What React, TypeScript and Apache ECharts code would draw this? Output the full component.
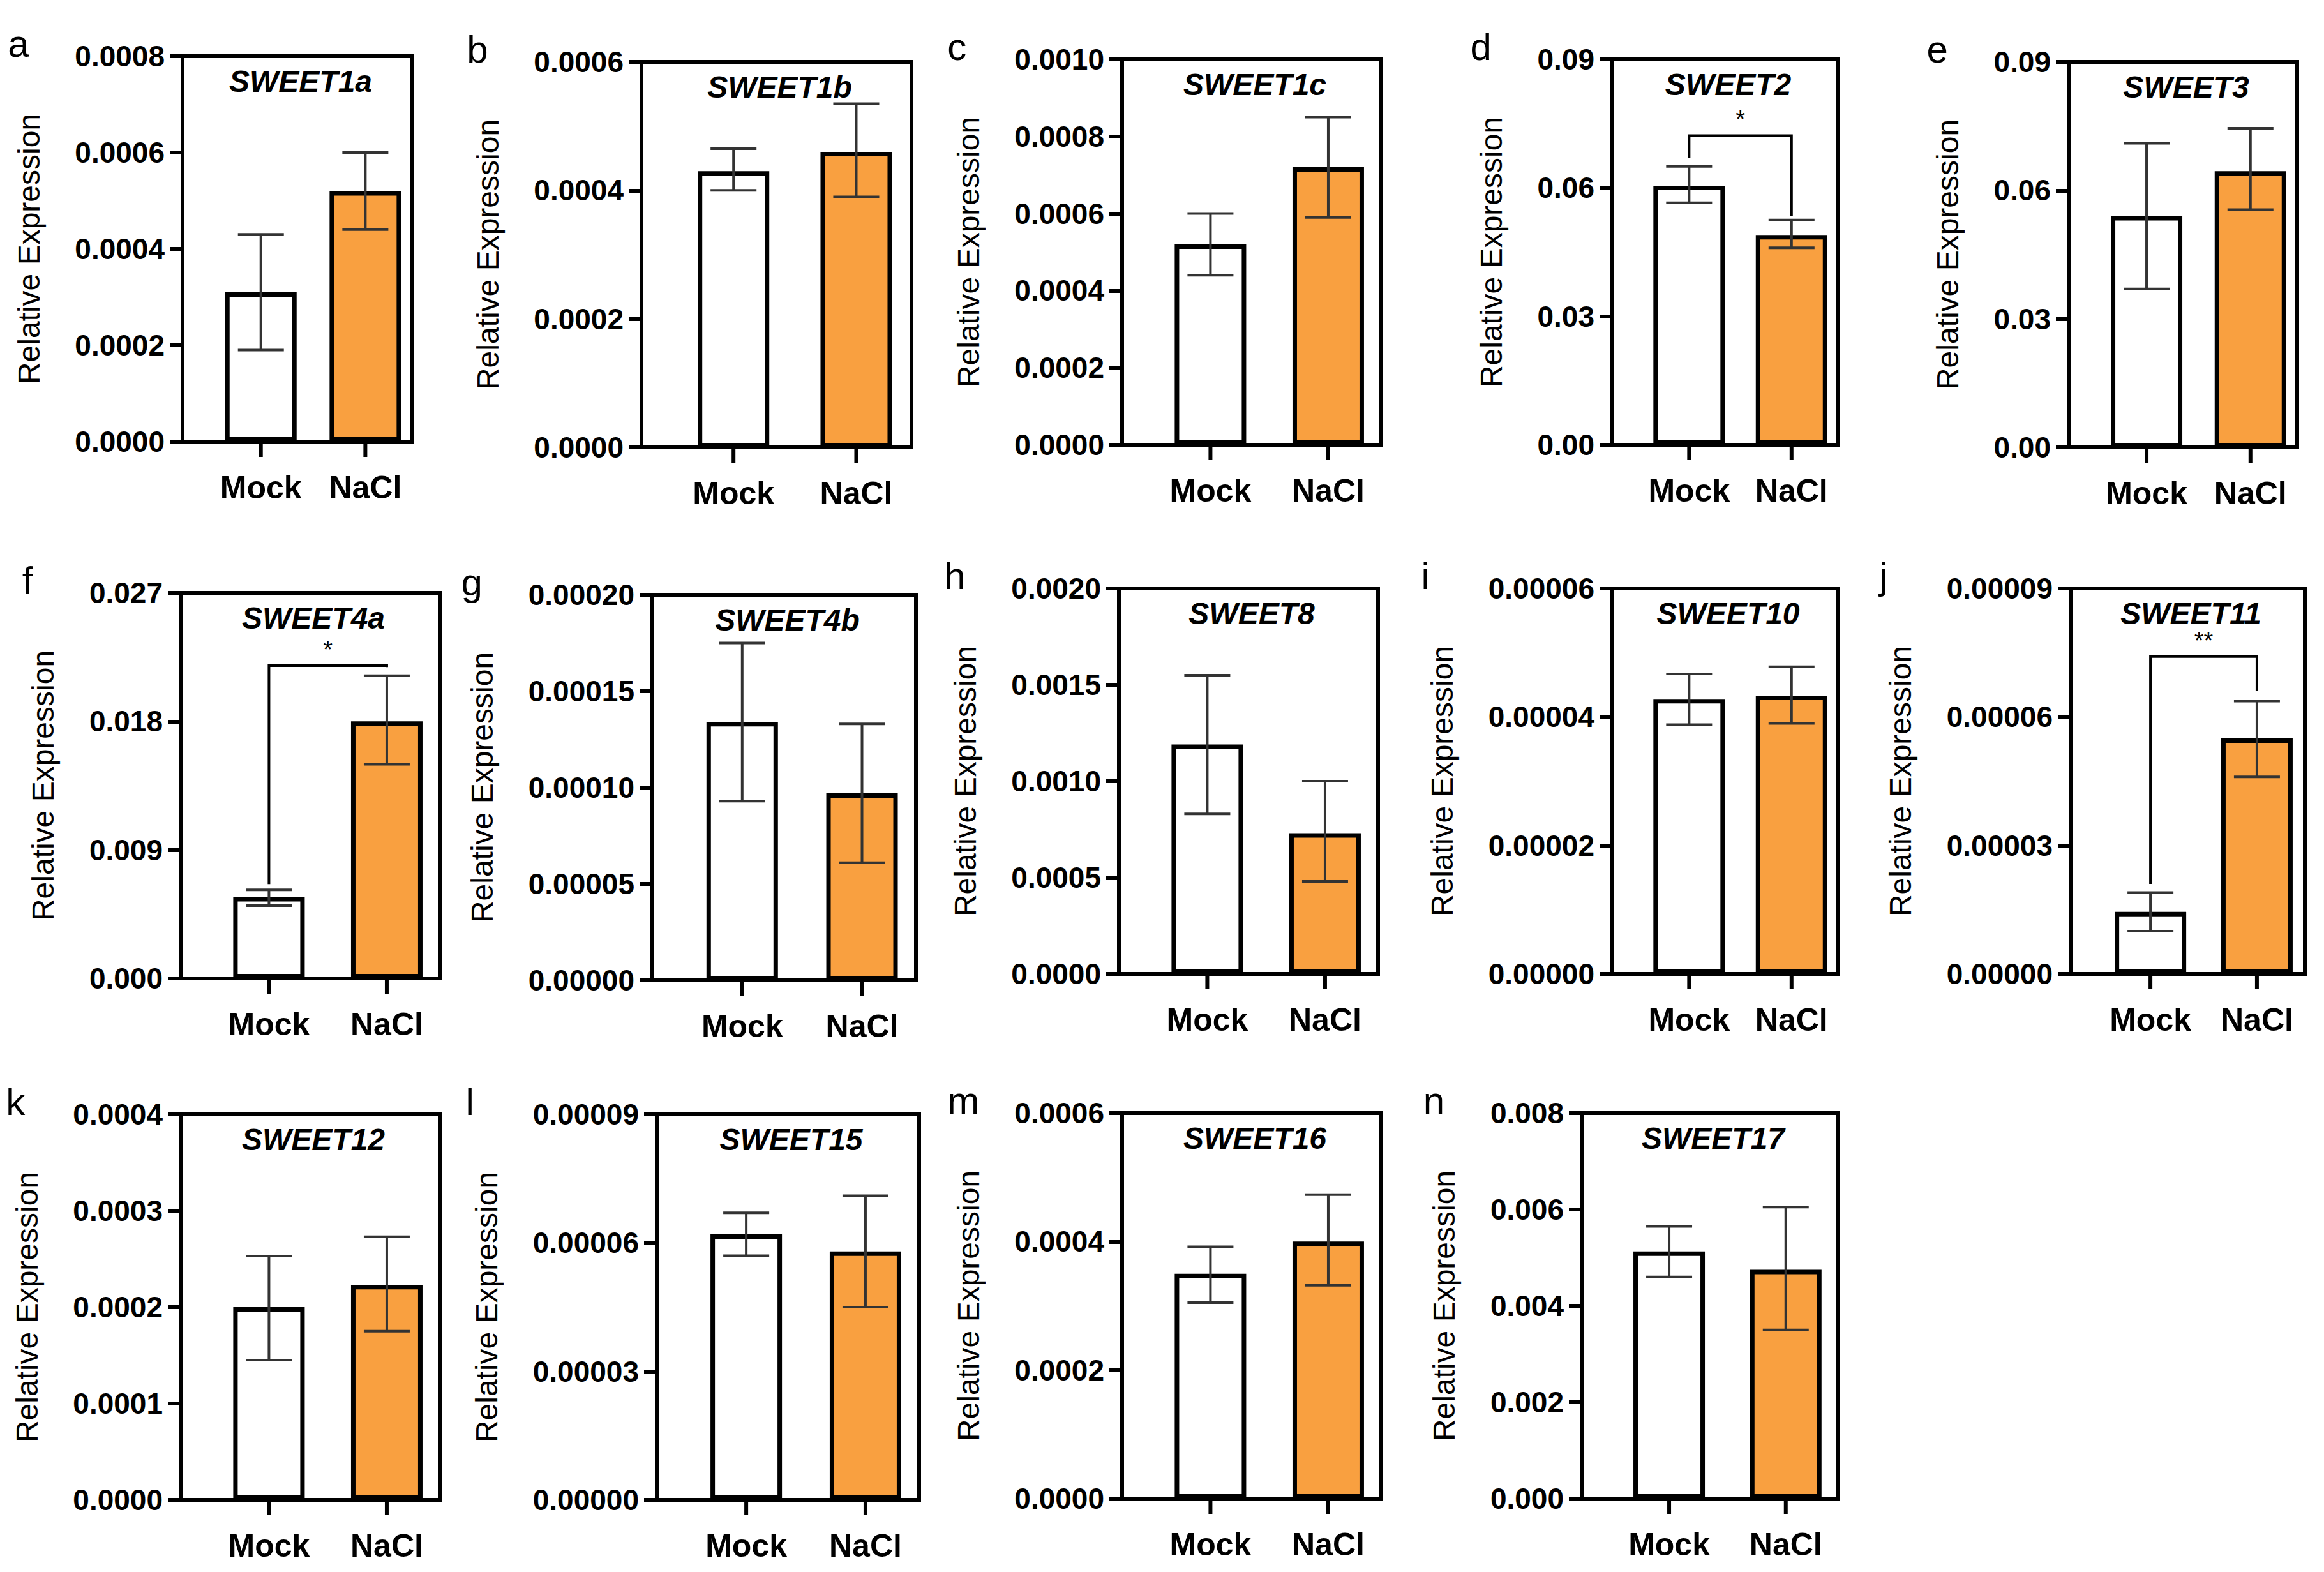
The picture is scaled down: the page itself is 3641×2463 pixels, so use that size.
import React, { useEffect, useRef } from "react";
import * as echarts from "echarts";

const W = 3641, H = 2463;
const letters = ["a","b","c","d","e","f","g","h","i","j","k","l","m","n"];
const genes = ["SWEET1a","SWEET1b","SWEET1c","SWEET2","SWEET3","SWEET4a","SWEET4b","SWEET8","SWEET10","SWEET11","SWEET12","SWEET15","SWEET16","SWEET17"];
const groups = ["Mock", "NaCl"];
const yMax = [0.0008,0.0006,0.001,0.09,0.09,0.027,0.0002,0.002,0.00006,0.00009,0.0004,0.00009,0.0006,0.008];
const yStep = [0.0002,0.0002,0.0002,0.03,0.03,0.009,0.00005,0.0005,0.00002,0.00003,0.0001,0.00003,0.0002,0.002];
const yDec = [4,4,4,2,2,3,5,4,5,5,4,5,4,3];
const mockMean = [0.00031,0.00043,0.00052,0.0605,0.054,0.0057,0.000134,0.00119,0.0000428,0.0000145,0.0002,0.000062,0.00035,0.00513];
const mockLo = [0.00019,0.0004,0.00044,0.0565,0.037,0.0051,0.000093,0.00083,0.0000388,0.00001,0.000145,0.000057,0.000305,0.0046];
const mockHi = [0.00043,0.000465,0.0006,0.065,0.071,0.0062,0.000175,0.00155,0.0000467,0.000019,0.000253,0.000067,0.000392,0.00565];
const naclMean = [0.00052,0.00046,0.00072,0.049,0.0645,0.018,0.000097,0.00073,0.0000433,0.000055,0.000223,0.000058,0.0004,0.00475];
const naclLo = [0.00044,0.00039,0.00059,0.046,0.0555,0.015,0.000061,0.00048,0.000039,0.000046,0.000175,0.000045,0.000332,0.0035];
const naclHi = [0.0006,0.000535,0.00085,0.0525,0.0745,0.0212,0.000133,0.001,0.0000478,0.0000637,0.000273,0.000071,0.000473,0.00605];
// significance: panel index, bracket y, left leg bottom, right leg bottom, mark
const sigPanel = [3, 5, 9];
const sigY = [0.0722, 0.0219, 0.0000741];
const sigLeft = [0.067, 0.0066, 0.000021];
const sigRight = [0.0535, 0.0218, 0.000066];
const sigMark = ["*", "*", "**"];

// layout (px)
const gLeft = [286,1005,1758,2526,3241, 283,1022,1753,2526,3244, 283,1029,1758,2478];
const gTop = [88,97,93,93,97, 929,932,922,922,922, 1746,1746,1744,1744];
const gWidth = [360,423,406,353,358, 406,413,406,353,367, 406,411,406,402];
const gHeight = 604;
const FONT = "Liberation Sans, Arial, sans-serif";

export default function App() {
  const ref = useRef<HTMLDivElement>(null);
  useEffect(() => {
    document.body.style.margin = "0";
    const chart = echarts.init(ref.current!, null, { renderer: "svg" });
    const grid: any[] = [], xAxis: any[] = [], yAxis: any[] = [], series: any[] = [], title: any[] = [];
    genes.forEach((g, i) => {
      grid.push({ left: gLeft[i], top: gTop[i], width: gWidth[i], height: gHeight, show: true, borderColor: "#000", borderWidth: 6, backgroundColor: "transparent" });
      xAxis.push({ type: "value", gridIndex: i, min: 0.25, max: 2.45, show: false });
      const labChars = (yMax[i].toFixed(yDec[i])).length;
      const labW = (labChars - 1) * 25.6 + 12.8;
      yAxis.push({
        type: "value", gridIndex: i, min: 0, max: yMax[i], interval: yStep[i],
        splitLine: { show: false },
        axisLine: { show: true, lineStyle: { color: "#000", width: 6 } },
        axisTick: { show: true, length: 20, lineStyle: { color: "#000", width: 6 } },
        axisLabel: { fontFamily: FONT, fontWeight: "bold", fontSize: 46, color: "#000", margin: 28,
          formatter: (v: number) => v.toFixed(yDec[i]) },
        name: "Relative Expression", nameLocation: "middle", nameRotate: 90,
        nameGap: 28 + labW + 48,
        nameTextStyle: { fontFamily: FONT, fontSize: 48, color: "#000" },
      });
      title.push({ text: g, left: gLeft[i] + gWidth[i] / 2, top: gTop[i] + 10, textAlign: "center",
        textStyle: { fontFamily: FONT, fontStyle: "italic", fontWeight: "bold", fontSize: 48, color: "#000" } });
      title.push({ text: letters[i], left: gLeft[i] - 28 - labW - 110, top: gTop[i] - 55,
        textStyle: { fontFamily: FONT, fontWeight: "normal", fontSize: 60, color: "#000" } });
      series.push({
        type: "bar", xAxisIndex: i, yAxisIndex: i, barWidth: 112,
        data: [
          { value: [1, mockMean[i]], itemStyle: { color: "#fff" } },
          { value: [2, naclMean[i]], itemStyle: { color: "#F9A040" } },
        ],
        itemStyle: { borderColor: "#000", borderWidth: 7 },
      });
      series.push({
        type: "custom", xAxisIndex: i, yAxisIndex: i, z: 5, clip: false,
        data: [[1, mockMean[i], mockLo[i], mockHi[i]], [2, naclMean[i], naclLo[i], naclHi[i]]],
        renderItem: (params: any, api: any) => {
          const x = api.value(0);
          const lo = api.coord([x, api.value(2)]);
          const hi = api.coord([x, api.value(3)]);
          const base = api.coord([x, 0]);
          const cap = 36;
          const ls = { stroke: "#333", lineWidth: 4 };
          return { type: "group", children: [
            { type: "line", shape: { x1: lo[0], y1: lo[1], x2: hi[0], y2: hi[1] }, style: ls },
            { type: "line", shape: { x1: lo[0] - cap, y1: lo[1], x2: lo[0] + cap, y2: lo[1] }, style: ls },
            { type: "line", shape: { x1: hi[0] - cap, y1: hi[1], x2: hi[0] + cap, y2: hi[1] }, style: ls },
            { type: "line", shape: { x1: base[0], y1: base[1], x2: base[0], y2: base[1] + 24 }, style: { stroke: "#000", lineWidth: 6 } },
            { type: "text", x: base[0], y: base[1] + 72, style: { text: groups[params.dataIndex], fontFamily: FONT, fontWeight: "bold", fontSize: 50, fill: "#000", align: "center", verticalAlign: "middle" } },
          ] };
        },
      });
    });
    sigPanel.forEach((p, k) => {
      series.push({
        type: "custom", xAxisIndex: p, yAxisIndex: p, z: 6, clip: false,
        data: [[sigY[k], sigLeft[k], sigRight[k]]],
        renderItem: (params: any, api: any) => {
          const top1 = api.coord([1, api.value(0)]);
          const top2 = api.coord([2, api.value(0)]);
          const l = api.coord([1, api.value(1)]);
          const r = api.coord([2, api.value(2)]);
          const ls = { stroke: "#000", lineWidth: 4, fill: null };
          return { type: "group", children: [
            { type: "polyline", shape: { points: [[l[0], l[1]], [top1[0], top1[1]], [top2[0], top2[1]], [r[0], r[1]]] }, style: ls },
            { type: "text", x: (top1[0] + top2[0]) / 2, y: top1[1] - 6, style: { text: sigMark[k], fontFamily: FONT, fontSize: 38, fill: "#000", align: "center", verticalAlign: "bottom" } },
          ] };
        },
      });
    });
    chart.setOption({ animation: false, backgroundColor: "#fff", title, grid, xAxis, yAxis, series });
    return () => chart.dispose();
  }, []);
  return <div ref={ref} style={{ width: W, height: H }} />;
}
